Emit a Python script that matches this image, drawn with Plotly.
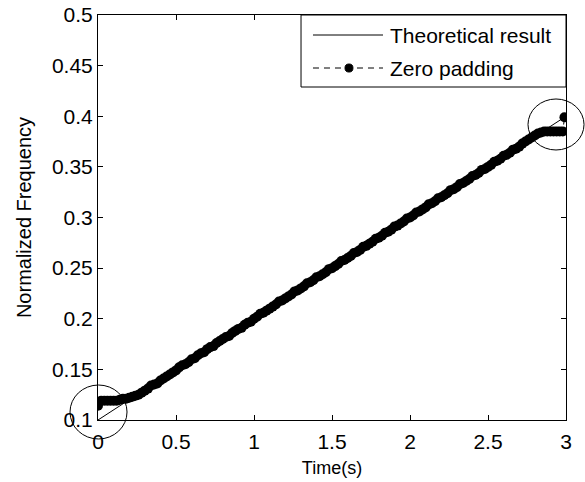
import plotly.graph_objects as go

# ---- data ----
theory_t = [0.0, 3.0]
theory_f = [0.1, 0.4]

pad_f = [
    0.114, 0.119, 0.119, 0.119, 0.119, 0.119, 0.119, 0.120, 0.121, 0.121,
    0.122, 0.123, 0.124, 0.125, 0.127, 0.129, 0.131, 0.134, 0.135, 0.136,
    0.139, 0.141, 0.143, 0.145, 0.147, 0.149, 0.152, 0.154, 0.155, 0.157,
    0.160, 0.161, 0.164, 0.166, 0.167, 0.170, 0.172, 0.173, 0.176, 0.178,
    0.180, 0.182, 0.183, 0.186, 0.188, 0.190, 0.191, 0.194, 0.196, 0.197,
    0.200, 0.202, 0.205, 0.206, 0.208, 0.210, 0.212, 0.214, 0.217, 0.218,
    0.220, 0.222, 0.224, 0.227, 0.228, 0.230, 0.232, 0.235, 0.236, 0.238,
    0.241, 0.242, 0.244, 0.246, 0.249, 0.250, 0.252, 0.254, 0.257, 0.258,
    0.260, 0.262, 0.265, 0.266, 0.268, 0.271, 0.272, 0.274, 0.276, 0.279,
    0.280, 0.282, 0.285, 0.286, 0.288, 0.291, 0.292, 0.294, 0.296, 0.299,
    0.300, 0.302, 0.305, 0.306, 0.308, 0.310, 0.313, 0.314, 0.316, 0.319,
    0.320, 0.322, 0.324, 0.327, 0.328, 0.330, 0.333, 0.334, 0.336, 0.338,
    0.341, 0.342, 0.344, 0.347, 0.348, 0.350, 0.352, 0.355, 0.356, 0.358,
    0.361, 0.362, 0.364, 0.367, 0.368, 0.370, 0.373, 0.375, 0.377, 0.379,
    0.381, 0.383, 0.384, 0.385, 0.385, 0.385, 0.385, 0.385, 0.385,
    0.385, 0.399,
]
pad_t = [round(0.02 * i, 2) for i in range(149)] + [2.98, 2.99]

x_ticks = [0, 0.5, 1, 1.5, 2, 2.5, 3]
x_ticklabels = ["0", "0.5", "1", "1.5", "2", "2.5", "3"]
y_ticks = [0.1, 0.15, 0.2, 0.25, 0.3, 0.35, 0.4, 0.45, 0.5]
y_ticklabels = ["0.1", "0.15", "0.2", "0.25", "0.3", "0.35", "0.4", "0.45", "0.5"]

legend_names = ["Theoretical result", "Zero padding"]

FONT = "Liberation Sans, Arial, sans-serif"
FS = 21

fig = go.Figure()
fig.add_trace(go.Scatter(
    x=pad_t, y=pad_f, mode="lines+markers", name=legend_names[1],
    line=dict(color="black", width=1, dash="6px,4px"),
    marker=dict(color="black", size=10), showlegend=False,
))
fig.add_trace(go.Scatter(
    x=theory_t, y=theory_f, mode="lines", name=legend_names[0],
    line=dict(color="black", width=1), showlegend=False,
))

shapes = []
# highlight circles
shapes.append(dict(type="circle", xref="paper", yref="paper",
                   x0=-0.0598, x1=0.062, y0=-0.0469, y1=0.0864,
                   line=dict(color="black", width=1)))
shapes.append(dict(type="circle", xref="paper", yref="paper",
                   x0=0.9188, x1=1.0385, y0=0.6667, y1=0.7926,
                   line=dict(color="black", width=1)))
# legend box
shapes.append(dict(type="rect", xref="paper", yref="paper",
                   x0=0.4338, x1=1.0, y0=0.8222, y1=1.0,
                   line=dict(color="black", width=1), fillcolor="white"))
shapes.append(dict(type="line", xref="paper", yref="paper",
                   x0=0.4594, x1=0.609, y0=0.9506, y1=0.9506,
                   line=dict(color="black", width=1)))
shapes.append(dict(type="line", xref="paper", yref="paper",
                   x0=0.4594, x1=0.609, y0=0.8691, y1=0.8691,
                   line=dict(color="black", width=1, dash="6px,5px")))
shapes.append(dict(type="circle", xref="paper", yref="paper",
                   x0=0.5363 - 0.0085, x1=0.5363 + 0.0085,
                   y0=0.8691 - 0.0099, y1=0.8691 + 0.0099,
                   line=dict(color="black", width=1), fillcolor="black"))

annotations = [
    dict(xref="paper", yref="paper", x=0.6197, y=0.9506, text=legend_names[0],
         showarrow=False, xanchor="left", yanchor="middle",
         font=dict(family=FONT, size=FS, color="black")),
    dict(xref="paper", yref="paper", x=0.6197, y=0.8691, text=legend_names[1],
         showarrow=False, xanchor="left", yanchor="middle",
         font=dict(family=FONT, size=FS, color="black")),
]

axis_common = dict(
    showline=True, linecolor="black", linewidth=1, mirror="ticks",
    ticks="inside", ticklen=5, tickcolor="black", tickwidth=1,
    showgrid=False, zeroline=False, automargin=False,
    tickfont=dict(family=FONT, size=FS, color="black"),
)

fig.update_layout(
    width=585, height=482,
    margin=dict(l=98, r=19, t=15, b=62),
    paper_bgcolor="white", plot_bgcolor="white",
    font=dict(family=FONT, size=FS, color="black"),
    shapes=shapes, annotations=annotations,
    xaxis=dict(range=[0, 3], tickvals=x_ticks, ticktext=x_ticklabels,
               ticklabelstandoff=3,
               title=dict(text="Time(s)", font=dict(family=FONT, size=18), standoff=9),
               **axis_common),
    yaxis=dict(range=[0.1, 0.5], tickvals=y_ticks, ticktext=y_ticklabels,
               title=dict(text="Normalized Frequency", font=dict(family=FONT, size=20), standoff=14),
               **axis_common),
)

fig.write_html("out.html")
